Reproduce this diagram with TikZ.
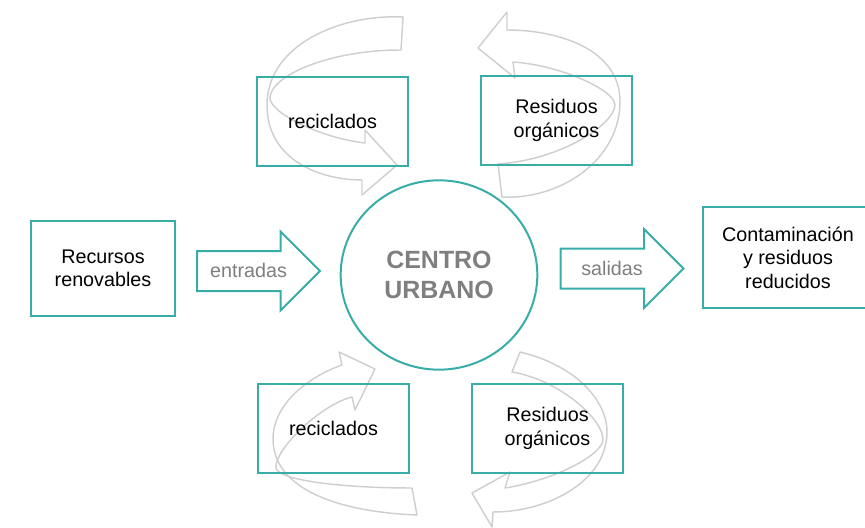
\documentclass[tikz,border=0pt]{standalone}
\usepackage{fontspec}
\setmainfont{Liberation Sans}
\usepackage{xcolor}
\usetikzlibrary{shapes.geometric,shapes.arrows}
\definecolor{tealline}{RGB}{56,173,167}
\definecolor{loopgray}{RGB}{207,207,207}
\definecolor{txtgray}{RGB}{127,127,127}

\begin{document}
\begin{tikzpicture}[x=0.75pt,y=-0.75pt,font=\fontsize{14.8}{17.6}\selectfont,
  bx/.style={draw=tealline,line width=1.5pt,align=center,inner sep=0pt,
    minimum width=113.25pt,minimum height=66.75pt},
  ctr/.style={ellipse,draw=tealline,line width=1.5pt,align=center,text=txtgray,
    minimum width=147.5pt,minimum height=142pt,font=\fontsize{18.7}{22.5}\selectfont\bfseries},
  arr/.style={single arrow,draw=tealline,line width=1.5pt,fill=white,text=txtgray,
    minimum height=92.25pt,single arrow head extend=14.6pt,inner xsep=0pt,
    inner ysep=9.25pt,text height=10pt,text depth=0pt},
  lp/.style={draw=loopgray,line width=1.1pt,line join=round}]
\useasboundingbox (0,0) rectangle (865,528);
\clip (0,0) rectangle (865,528);
% loops
\draw[lp] (403,17) .. controls (340,14) and (267,45) .. (267,105)
  .. controls (267,160) and (320,180) .. (362,180) -- (362,195) -- (397,165) -- (365,130) -- (365,143)
  .. controls (320,138) and (268,112) .. (270,97) .. controls (272,75) and (330,50) .. (401,50) -- cycle;
\draw[lp] (502,197) .. controls (560,200) and (621,160) .. (620,100)
  .. controls (619,50) and (560,30) .. (507,30) -- (507,12) -- (478,48) -- (515,78) -- (513,62)
  .. controls (560,65) and (615,90) .. (615,105) .. controls (614,125) and (560,160) .. (498,164) -- cycle;
\draw[lp] (417,515) .. controls (340,512) and (274,490) .. (273,440)
  .. controls (272,410) and (300,380) .. (342,365) -- (339,352) -- (375,369) -- (355,410) -- (352,397)
  .. controls (320,405) and (274,450) .. (276,468) .. controls (278,480) and (340,488) .. (412,488) -- cycle;
\draw[lp] (520,352) .. controls (575,365) and (607,400) .. (607,432)
  .. controls (607,480) and (550,512) .. (493,512) -- (492,527) -- (472,493) -- (510,472) -- (505,488)
  .. controls (555,480) and (602,455) .. (603,440) .. controls (604,420) and (560,380) .. (512,372) -- cycle;
% centre
\node[ctr] (urb) at (439,275) {CENTRO\\URBANO};
\node[bx,minimum width=108pt,minimum height=71.25pt] (ren) at (103,268.5) {Recursos\\renovables};
\node[bx,minimum width=127.5pt,minimum height=75.75pt] (cont) at (788,257.5) {Contaminación\\y residuos\\reducidos};
\node[arr] (ent) at (248.5,271) {entradas};
\node[arr] (sal) at (612,268.5) {salidas};
% cycles
\node[bx] (recA) at (332.5,121.5) {reciclados};
\node[bx] (resA) at (556.5,120.5) {Residuos\\orgánicos};
\node[bx] (recB) at (333.5,428.5) {reciclados};
\node[bx] (resB) at (547.5,428.5) {Residuos\\orgánicos};
\end{tikzpicture}
\end{document}
